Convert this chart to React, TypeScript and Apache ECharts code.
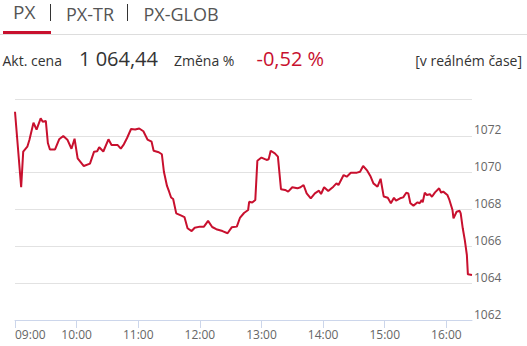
import React, { useEffect, useRef } from "react";
import * as echarts from "echarts";

const times: string[] = [
  "09:00","09:06","09:08","09:12","09:14","09:18","09:21","09:25","09:27","09:30",
  "09:32","09:34","09:39","09:43","09:47","09:51","09:55","09:58","10:01","10:07",
  "10:13","10:17","10:20","10:22","10:26","10:31","10:34","10:40","10:43","10:46",
  "10:49","10:53","10:57","11:01","11:05","11:09","11:13","11:15","11:20","11:23",
  "11:25","11:28","11:30","11:32","11:34","11:37","11:42","11:45","11:48","11:52",
  "11:55","12:00","12:04","12:08","12:12","12:16","12:22","12:27","12:31","12:36",
  "12:39","12:43","12:47","12:48","12:51","12:54","12:56","13:00","13:05","13:07",
  "13:09","13:13","13:16","13:19","13:23","13:26","13:30","13:35","13:38","13:41",
  "13:44","13:48","13:52","13:56","13:58","14:01","14:05","14:10","14:13","14:15",
  "14:20","14:23","14:27","14:33","14:36","14:39","14:43","14:46","14:49","14:53",
  "14:56","14:59","15:03","15:06","15:09","15:11","15:15","15:18","15:21","15:23",
  "15:25","15:28","15:32","15:34","15:36","15:37","15:39","15:41","15:44","15:46",
  "15:49","15:53","15:55","15:57","16:01","16:03","16:06","16:07","16:10","16:13",
  "16:14","16:16","16:18","16:20","16:21","16:25",
];

const pxValues: number[] = [
  1073.31, 1069.21, 1071.14, 1071.41, 1071.77, 1072.71, 1072.34, 1072.95, 1072.77, 1072.81,
  1071.61, 1071.26, 1071.26, 1071.81, 1071.99, 1071.79, 1071.30, 1071.84, 1070.78, 1070.36,
  1070.49, 1071.14, 1071.16, 1071.38, 1071.15, 1071.81, 1071.50, 1071.50, 1071.31, 1071.54,
  1071.87, 1072.37, 1072.34, 1072.40, 1072.25, 1071.80, 1071.68, 1071.19, 1071.11, 1071.00,
  1070.05, 1069.28, 1068.98, 1068.65, 1068.57, 1067.79, 1067.67, 1067.59, 1066.98, 1066.83,
  1067.01, 1067.07, 1067.07, 1067.38, 1067.05, 1066.93, 1066.83, 1066.71, 1067.03, 1067.07,
  1067.54, 1067.81, 1067.97, 1068.42, 1068.38, 1068.52, 1070.65, 1070.82, 1070.69, 1070.73,
  1071.19, 1071.05, 1070.87, 1069.10, 1069.06, 1068.97, 1069.21, 1069.15, 1069.21, 1069.33,
  1068.88, 1068.61, 1068.88, 1069.02, 1068.84, 1069.21, 1069.00, 1069.24, 1069.42, 1069.33,
  1069.87, 1069.78, 1070.00, 1070.00, 1070.05, 1070.36, 1070.11, 1069.82, 1069.42, 1069.24,
  1069.67, 1068.71, 1068.64, 1068.34, 1068.64, 1068.48, 1068.61, 1068.66, 1068.91, 1068.87,
  1068.34, 1068.21, 1068.39, 1068.34, 1068.52, 1068.39, 1068.91, 1068.79, 1068.83, 1068.69,
  1068.93, 1069.15, 1068.91, 1068.97, 1068.79, 1068.52, 1067.97, 1067.52, 1067.88, 1067.93,
  1067.79, 1066.98, 1066.34, 1065.53, 1064.48, 1064.44,
];

const xTickLabels: string[] = ["09:00", "10:00", "11:00", "12:00", "13:00", "14:00", "15:00", "16:00"];
const yTickLabels: number[] = [1062, 1064, 1066, 1068, 1070, 1072];
const yMin = 1062;
const yMax = 1074;
const xStart = "09:00";
const xEnd = "16:25";

const tabs: string[] = ["PX", "PX-TR", "PX-GLOB"];
const priceLabel = "Akt. cena";
const priceValue = "1 064,44";
const changeLabel = "Změna %";
const changeValue = "-0,52 %";
const realtimeLabel = "[v reálném čase]";

const toMin = (s: string) => {
  const [h, m] = s.split(":").map(Number);
  return h * 60 + m;
};
const fmt = (v: number) => {
  const h = Math.floor(v / 60);
  const m = Math.round(v - h * 60);
  return String(h).padStart(2, "0") + ":" + String(m).padStart(2, "0");
};

const RED = "#c8102e";
const FONT = "'Open Sans', 'Noto Sans', sans-serif";

export default function App() {
  const ref = useRef<HTMLDivElement>(null);
  useEffect(() => {
    if (!ref.current) return;
    const chart = echarts.init(ref.current, null, { renderer: "svg" });
    const n = Math.min(times.length, pxValues.length);
    const data: [number, number][] = [];
    for (let i = 0; i < n; i++) data.push([toMin(times[i]), pxValues[i]]);

    chart.setOption({
      animation: false,
      backgroundColor: "#ffffff",
      textStyle: { fontFamily: FONT },
      grid: { left: 15, right: 55, top: 99, bottom: 26, containLabel: false },
      xAxis: {
        type: "value",
        min: toMin(xStart),
        max: toMin(xEnd),
        interval: 60,
        axisLine: { show: true, lineStyle: { color: "#ccd6eb", width: 1 } },
        axisTick: {
          show: true,
          length: 8,
          lineStyle: { color: "#ccd6eb" },
          customValues: xTickLabels.map(toMin),
        },
        axisLabel: {
          color: "#666",
          fontSize: 12,
          fontFamily: FONT,
          margin: 8,
          formatter: (v: number) => fmt(v),
          customValues: xTickLabels.map(toMin),
          alignMinLabel: "left",
        },
        splitLine: { show: false },
      },
      yAxis: {
        type: "value",
        position: "right",
        min: yMin,
        max: yMax,
        interval: 2,
        axisLine: { show: false },
        axisTick: { show: false },
        axisLabel: {
          color: "#666",
          fontSize: 12,
          fontFamily: FONT,
          margin: 2,
          align: "left",
          verticalAlign: "bottom",
          formatter: (v: number) => String(Math.round(v)),
          customValues: yTickLabels,
        },
        splitLine: { show: true, lineStyle: { color: "#e2e2e2", width: 1 } },
      },
      series: [
        {
          type: "line",
          data,
          showSymbol: false,
          symbol: "none",
          lineStyle: { color: RED, width: 2 },
          silent: true,
        },
      ],
      graphic: [
        { type: "text", x: 13, y: 2, style: { text: tabs[0], font: `19px ${FONT}`, fill: "#555", verticalAlign: "top" } },
        { type: "line", shape: { x1: 50.5, y1: 4, x2: 50.5, y2: 21 }, style: { stroke: "#333", lineWidth: 1 } },
        { type: "text", x: 66, y: 14, style: { text: tabs[1], font: `18px ${FONT}`, fill: "#555", verticalAlign: "middle" } },
        { type: "line", shape: { x1: 127.5, y1: 4, x2: 127.5, y2: 21 }, style: { stroke: "#333", lineWidth: 1 } },
        { type: "text", x: 143.5, y: 14, style: { text: tabs[2], font: `18px ${FONT}`, fill: "#555", verticalAlign: "middle" } },
        { type: "rect", shape: { x: 3, y: 31, width: 48, height: 3 }, style: { fill: RED } },
        { type: "line", shape: { x1: 0, y1: 34.5, x2: 527, y2: 34.5 }, style: { stroke: "#dddddd", lineWidth: 1 } },
        { type: "text", x: 2.5, y: 60.5, style: { text: priceLabel, font: `14px ${FONT}`, fill: "#333", verticalAlign: "middle" } },
        { type: "text", x: 79, y: 58.5, style: { text: priceValue, font: `20px ${FONT}`, fill: "#333", verticalAlign: "middle" } },
        { type: "text", x: 174, y: 60.5, style: { text: changeLabel, font: `14px ${FONT}`, fill: "#333", verticalAlign: "middle" } },
        { type: "text", x: 256.5, y: 58.5, style: { text: changeValue, font: `20px ${FONT}`, fill: RED, verticalAlign: "middle" } },
        { type: "text", x: 522, y: 60, style: { text: realtimeLabel, font: `14px ${FONT}`, fill: "#333", verticalAlign: "middle", align: "right" } },
      ],
    });
    return () => chart.dispose();
  }, []);
  return (
    <div
      ref={ref}
      style={{ position: "absolute", left: 0, top: 0, width: 527, height: 346 }}
    />
  );
}
